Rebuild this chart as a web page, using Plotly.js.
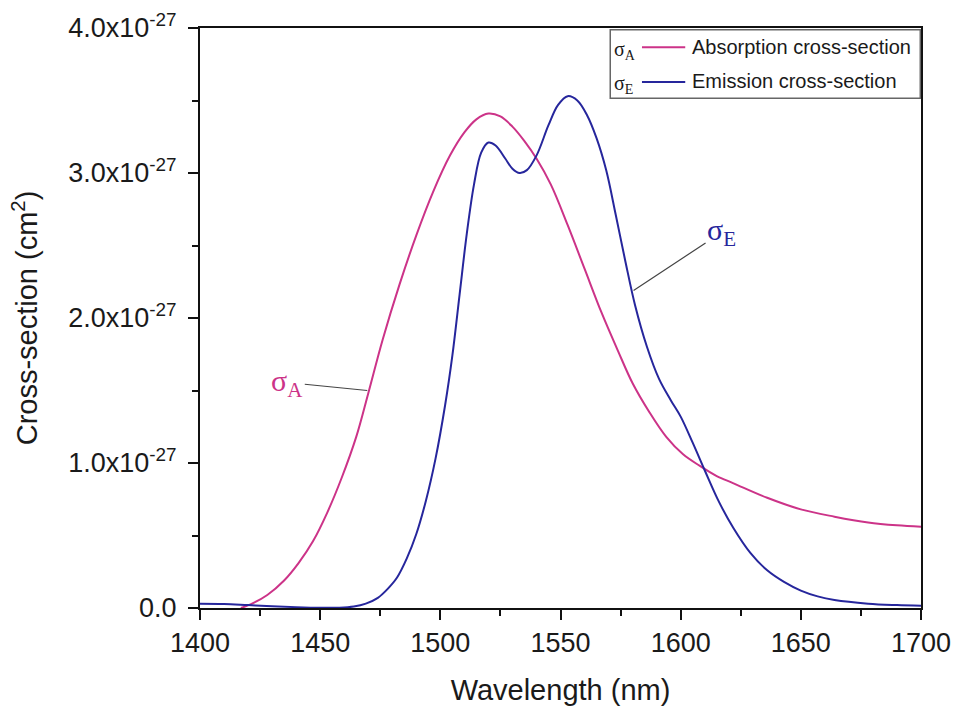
<!DOCTYPE html>
<html>
<head>
<meta charset="utf-8">
<script src="https://cdn.plot.ly/plotly-3.0.1.min.js"></script>
<style>html,body{margin:0;padding:0;background:#fff;}#chart{width:965px;height:713px;}</style>
</head>
<body>
<div id="chart"></div>
<script>
// Wavelength (nm) and cross-section values (in units of 1e-27 cm^2)
const absWavelength = [1417, 1421, 1428, 1435, 1441, 1447, 1453, 1459, 1465, 1470, 1476, 1483, 1490, 1497, 1504, 1510, 1515, 1520, 1525, 1530, 1535, 1540, 1546, 1553, 1560, 1567, 1574, 1580, 1587, 1594, 1601, 1608, 1615, 1622, 1636, 1650, 1664, 1678, 1690, 1700];
const absSigma = [0, 0.025, 0.09, 0.19, 0.31, 0.46, 0.66, 0.90, 1.18, 1.48, 1.85, 2.23, 2.57, 2.87, 3.12, 3.28, 3.37, 3.41, 3.39, 3.32, 3.22, 3.10, 2.92, 2.64, 2.34, 2.04, 1.77, 1.55, 1.35, 1.18, 1.06, 0.98, 0.91, 0.86, 0.76, 0.68, 0.63, 0.59, 0.57, 0.56];

const emiWavelength = [1400, 1410, 1420, 1430, 1440, 1450, 1458, 1464, 1469, 1474, 1478, 1482, 1486, 1490, 1494, 1498, 1502, 1505, 1508, 1511, 1514, 1517, 1520, 1523, 1527, 1530, 1533, 1536, 1540, 1545, 1549, 1553, 1557, 1561, 1565, 1569, 1573, 1577, 1581, 1586, 1591, 1596, 1600, 1605, 1610, 1616, 1622, 1629, 1636, 1643, 1650, 1657, 1664, 1678, 1690, 1700];
const emiSigma = [0.03, 0.028, 0.02, 0.012, 0.006, 0.002, 0.002, 0.01, 0.03, 0.07, 0.13, 0.21, 0.34, 0.51, 0.74, 1.03, 1.40, 1.74, 2.16, 2.58, 2.92, 3.14, 3.21, 3.19, 3.10, 3.03, 3.00, 3.02, 3.12, 3.33, 3.47, 3.53, 3.50, 3.40, 3.24, 3.02, 2.71, 2.39, 2.09, 1.80, 1.58, 1.43, 1.32, 1.14, 0.95, 0.73, 0.55, 0.38, 0.26, 0.18, 0.12, 0.08, 0.055, 0.03, 0.02, 0.015];

const yTickVals = [0, 1, 2, 3, 4];
const yTickText = ['0.0', '1.0x10<sup>-27</sup>', '2.0x10<sup>-27</sup>', '3.0x10<sup>-27</sup>', '4.0x10<sup>-27</sup>'];
const xTickVals = [1400, 1450, 1500, 1550, 1600, 1650, 1700];

const absColor = '#CC3388';
const emiColor = '#26269C';

const traces = [
  {x: absWavelength, y: absSigma, type: 'scatter', mode: 'lines', name: 'Absorption cross-section',
   line: {color: absColor, width: 2, shape: 'spline', smoothing: 1}, showlegend: false},
  {x: emiWavelength, y: emiSigma, type: 'scatter', mode: 'lines', name: 'Emission cross-section',
   line: {color: emiColor, width: 2, shape: 'spline', smoothing: 1}, showlegend: false}
];

const tickFont = {family: 'Arial, Liberation Sans, sans-serif', size: 27, color: '#1a1a1a'};
const titleFont = {family: 'Arial, Liberation Sans, sans-serif', size: 29, color: '#1a1a1a'};
const legFont = {family: 'Arial, Liberation Sans, sans-serif', size: 20, color: '#1a1a1a'};
const sigFont = {family: 'Liberation Serif, Times New Roman, serif', size: 20, color: '#1a1a1a'};

const layout = {
  width: 965, height: 713,
  margin: {l: 200, r: 44, t: 28, b: 105},
  paper_bgcolor: '#fff', plot_bgcolor: '#fff',
  xaxis: {
    range: [1400, 1700], tickvals: xTickVals, ticktext: xTickVals.map(String),
    showline: true, mirror: true, linecolor: '#111', linewidth: 2,
    ticks: 'outside', ticklen: 10, tickwidth: 2, tickcolor: '#111',
    minor: {ticks: 'outside', ticklen: 6, tickwidth: 2, tickcolor: '#111', dtick: 25, tick0: 1400},
    showgrid: false, zeroline: false, tickfont: tickFont,
    title: {text: 'Wavelength (nm)', font: titleFont, standoff: 22}
  },
  yaxis: {
    range: [0, 4], tickvals: yTickVals, ticktext: yTickText,
    showline: true, mirror: true, linecolor: '#111', linewidth: 2,
    ticks: 'outside', ticklen: 10, tickwidth: 2, tickcolor: '#111',
    ticklabelstandoff: 6,
    minor: {ticks: 'outside', ticklen: 6, tickwidth: 2, tickcolor: '#111', dtick: 0.5, tick0: 0},
    showgrid: false, zeroline: false, tickfont: tickFont,
    title: {text: 'Cross-section (cm<sup>2</sup>)', font: titleFont, standoff: 22}
  },
  shapes: [
    {type: 'rect', xref: 'paper', yref: 'paper', x0: 0.569, x1: 0.999, y0: 0.879, y1: 0.997,
     line: {color: '#666', width: 1.5}, fillcolor: 'rgba(255,255,255,0)'},
    {type: 'line', xref: 'paper', yref: 'paper', x0: 0.613, x1: 0.673, y0: 0.967, y1: 0.967,
     line: {color: absColor, width: 2}},
    {type: 'line', xref: 'paper', yref: 'paper', x0: 0.613, x1: 0.673, y0: 0.907, y1: 0.907,
     line: {color: emiColor, width: 2}}
  ],
  annotations: [
    {xref: 'paper', yref: 'paper', x: 0.679, y: 0.968, xanchor: 'left', yanchor: 'middle', showarrow: false,
     text: 'Absorption cross-section', font: legFont},
    {xref: 'paper', yref: 'paper', x: 0.679, y: 0.908, xanchor: 'left', yanchor: 'middle', showarrow: false,
     text: 'Emission cross-section', font: legFont},
    {xref: 'paper', yref: 'paper', x: 0.571, y: 0.962, xanchor: 'left', yanchor: 'middle', showarrow: false,
     text: 'σ<sub>A</sub>', font: sigFont},
    {xref: 'paper', yref: 'paper', x: 0.571, y: 0.902, xanchor: 'left', yanchor: 'middle', showarrow: false,
     text: 'σ<sub>E</sub>', font: sigFont},
    {x: 1469.6, y: 1.50, xref: 'x', yref: 'y', text: 'σ<sub>A</sub>', showarrow: true, arrowhead: 0,
     arrowwidth: 1.2, arrowcolor: '#444', ax: -80, ay: -8,
     font: {family: 'Liberation Serif, Times New Roman, serif', size: 30, color: absColor}},
    {x: 1580.4, y: 2.19, xref: 'x', yref: 'y', text: 'σ<sub>E</sub>', showarrow: true, arrowhead: 0,
     arrowwidth: 1.2, arrowcolor: '#444', ax: 88, ay: -58,
     font: {family: 'Liberation Serif, Times New Roman, serif', size: 30, color: emiColor}}
  ]
};

Plotly.newPlot('chart', traces, layout, {displayModeBar: false, staticPlot: true});
</script>
</body>
</html>
